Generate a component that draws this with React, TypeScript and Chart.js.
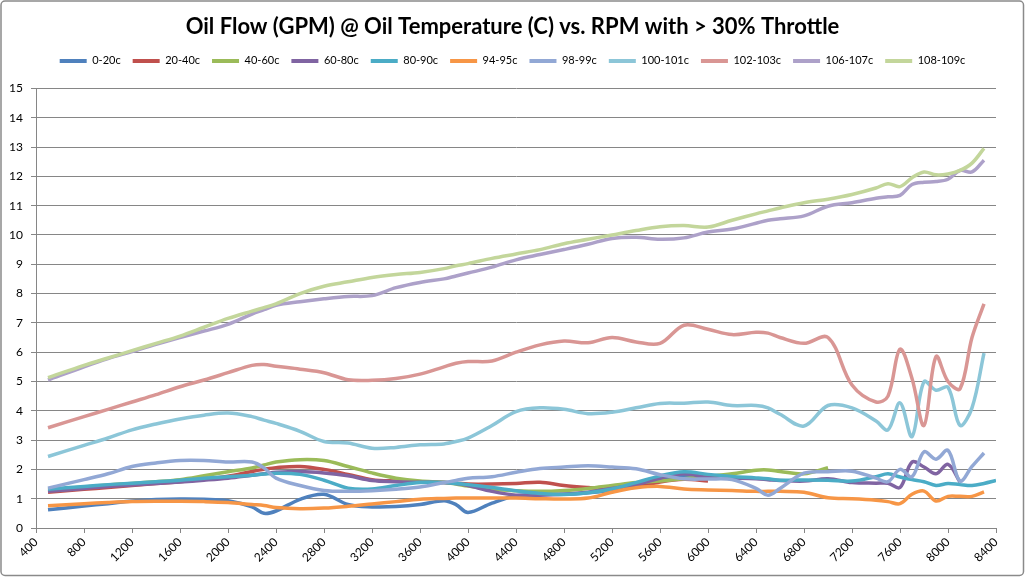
import { useEffect, useRef } from 'react';
import { Chart, registerables } from 'chart.js';

Chart.register(...registerables);

const TITLE = 'Oil Flow (GPM) @ Oil Temperature (C) vs. RPM with > 30% Throttle';

const RPM = [500, 800, 1000, 1200, 1400, 1600, 1800, 2000, 2200, 2300, 2400, 2600, 2800, 3000, 3200, 3400, 3600, 3800, 3900, 4000, 4200, 4400, 4600, 4800, 5000, 5200, 5400, 5600, 5800, 6000, 6200, 6400, 6500, 6600, 6800, 7000, 7200, 7400, 7500, 7600, 7700, 7800, 7900, 8000, 8100, 8200, 8300, 8400];

const X_TICKS = [400, 800, 1200, 1600, 2000, 2400, 2800, 3200, 3600, 4000, 4400, 4800, 5200, 5600, 6000, 6400, 6800, 7200, 7600, 8000, 8400];
const Y_TICKS = [0, 1, 2, 3, 4, 5, 6, 7, 8, 9, 10, 11, 12, 13, 14, 15];

const S_0_20 = [0.62, 0.75, 0.83, 0.92, 0.97, 0.99, 0.98, 0.93, 0.72, 0.5, 0.58, 0.98, 1.15, 0.8, 0.72, 0.73, 0.8, 0.93, 0.8, 0.53, 0.85, 1.1, 1.15, 1.15, 1.2, 1.3, 1.45, 1.65, 1.78, 1.75];
const S_20_40 = [1.22, 1.32, 1.38, 1.45, 1.52, 1.58, 1.66, 1.77, 1.93, 2.0, 2.06, 2.1, 2.0, 1.83, 1.65, 1.6, 1.57, 1.55, 1.53, 1.5, 1.5, 1.52, 1.56, 1.45, 1.38, 1.33, 1.4, 1.57, 1.66, 1.6];
const S_40_60 = [1.3, 1.4, 1.47, 1.52, 1.58, 1.65, 1.78, 1.92, 2.05, 2.15, 2.25, 2.33, 2.3, 2.1, 1.88, 1.7, 1.6, 1.56, 1.5, 1.43, 1.32, 1.27, 1.25, 1.28, 1.35, 1.45, 1.55, 1.6, 1.68, 1.76, 1.85, 1.97, 1.98, 1.93, 1.85, 2.06];
const S_60_80 = [1.25, 1.35, 1.42, 1.47, 1.52, 1.57, 1.63, 1.7, 1.8, 1.85, 1.9, 1.93, 1.88, 1.78, 1.62, 1.58, 1.56, 1.55, 1.52, 1.45, 1.25, 1.12, 1.12, 1.15, 1.22, 1.35, 1.48, 1.7, 1.85, 1.72, 1.7, 1.68, 1.65, 1.62, 1.6, 1.68, 1.55, 1.53, 1.53, 1.38, 2.25, 2.08, 1.85, 2.17, 1.57];
const S_80_90 = [1.32, 1.42, 1.48, 1.53, 1.58, 1.63, 1.7, 1.75, 1.8, 1.84, 1.87, 1.83, 1.63, 1.36, 1.33, 1.45, 1.55, 1.55, 1.52, 1.48, 1.38, 1.27, 1.18, 1.14, 1.2, 1.33, 1.55, 1.78, 1.92, 1.83, 1.76, 1.71, 1.68, 1.63, 1.64, 1.63, 1.6, 1.75, 1.85, 1.74, 1.65, 1.58, 1.45, 1.52, 1.48, 1.45, 1.52, 1.62];
const S_94_95 = [0.76, 0.83, 0.87, 0.9, 0.91, 0.91, 0.9, 0.87, 0.8, 0.77, 0.7, 0.66, 0.68, 0.74, 0.82, 0.9, 0.98, 1.01, 1.02, 1.02, 1.02, 1.02, 1.0, 0.99, 1.02, 1.22, 1.37, 1.42, 1.33, 1.3, 1.28, 1.25, 1.25, 1.25, 1.22, 1.03, 1.0, 0.95, 0.9, 0.83, 1.15, 1.26, 0.92, 1.08, 1.08, 1.08, 1.23];
const S_98_99 = [1.36, 1.65, 1.85, 2.1, 2.22, 2.3, 2.3, 2.25, 2.25, 2.05, 1.7, 1.45, 1.28, 1.25, 1.27, 1.32, 1.4, 1.55, 1.62, 1.7, 1.75, 1.9, 2.03, 2.08, 2.12, 2.08, 2.02, 1.82, 1.68, 1.67, 1.65, 1.35, 1.12, 1.35, 1.87, 1.92, 1.94, 1.7, 1.58, 2.0, 1.75, 2.6, 2.35, 2.65, 1.6, 2.1, 2.56];
const S_100_101 = [2.44, 2.82, 3.07, 3.35, 3.55, 3.72, 3.85, 3.92, 3.8, 3.68, 3.57, 3.3, 2.95, 2.9, 2.72, 2.75, 2.84, 2.87, 2.95, 3.07, 3.5, 3.97, 4.1, 4.05, 3.9, 3.95, 4.1, 4.25, 4.26, 4.3, 4.18, 4.18, 4.1, 3.88, 3.48, 4.18, 4.1, 3.65, 3.35, 4.27, 3.12, 4.99, 4.7, 4.8, 3.5, 4.1, 5.97];
const S_102_103 = [3.42, 3.8, 4.05, 4.3, 4.55, 4.82, 5.05, 5.3, 5.55, 5.58, 5.52, 5.42, 5.3, 5.06, 5.04, 5.1, 5.25, 5.5, 5.62, 5.68, 5.7, 6.0, 6.25, 6.38, 6.32, 6.5, 6.35, 6.3, 6.92, 6.78, 6.6, 6.68, 6.65, 6.5, 6.3, 6.5, 4.88, 4.3, 4.5, 6.1, 5.1, 3.5, 5.85, 5.0, 4.75, 6.5, 7.65];
const S_106_107 = [5.05, 5.5, 5.78, 6.02, 6.27, 6.5, 6.72, 6.95, 7.3, 7.45, 7.6, 7.72, 7.82, 7.9, 7.93, 8.2, 8.38, 8.5, 8.6, 8.7, 8.9, 9.15, 9.33, 9.5, 9.68, 9.88, 9.92, 9.85, 9.9, 10.1, 10.2, 10.4, 10.5, 10.55, 10.65, 10.98, 11.1, 11.25, 11.3, 11.35, 11.72, 11.8, 11.82, 11.9, 12.2, 12.15, 12.55];
const S_108_109 = [5.13, 5.55, 5.8, 6.05, 6.3, 6.55, 6.85, 7.15, 7.4, 7.52, 7.65, 8.0, 8.25, 8.4, 8.55, 8.65, 8.72, 8.85, 8.95, 9.02, 9.2, 9.35, 9.5, 9.7, 9.85, 10.0, 10.15, 10.28, 10.32, 10.27, 10.5, 10.72, 10.82, 10.92, 11.1, 11.22, 11.38, 11.6, 11.75, 11.65, 11.95, 12.15, 12.05, 12.08, 12.2, 12.45, 12.95];

const SERIES_NAMES = ['0-20c', '20-40c', '40-60c', '60-80c', '80-90c', '94-95c', '98-99c', '100-101c', '102-103c', '106-107c', '108-109c'];
const SERIES_VALUES = [S_0_20, S_20_40, S_40_60, S_60_80, S_80_90, S_94_95, S_98_99, S_100_101, S_102_103, S_106_107, S_108_109];
const SERIES_COLORS = ['#4F81BD', '#C0504D', '#9BBB59', '#8064A2', '#4BACC6', '#F79646', '#92A8D5', '#8CC6D8', '#D99694', '#ADA1C9', '#C3D69B'];

const W = 1025;
const H = 577;
const FONT = 'Lato, "Liberation Sans", sans-serif';
const GRID = '#868686';

const framePlugin = {
  id: 'frame',
  beforeDraw(chart: any) {
    const ctx = chart.ctx;
    ctx.save();
    ctx.fillStyle = '#ffffff';
    ctx.fillRect(0, 0, chart.width, chart.height);
    ctx.restore();
  },
  afterDraw(chart: any) {
    const ctx = chart.ctx;
    ctx.save();
    ctx.strokeStyle = '#8a8a8a';
    ctx.lineWidth = 1.5;
    ctx.beginPath();
    (ctx as any).roundRect(1, 1, chart.width - 2.5, chart.height - 2.5, 4);
    ctx.stroke();
    ctx.restore();
  },
};

export default function App() {
  const ref = useRef<HTMLCanvasElement | null>(null);

  useEffect(() => {
    if (!ref.current) return;
    const datasets = SERIES_NAMES.map((name, i) => ({
      label: name,
      data: RPM.map((x, j) => ({ x, y: SERIES_VALUES[i][j] })).filter((p) => p.y !== undefined && p.y !== null),
      borderColor: SERIES_COLORS[i],
      backgroundColor: SERIES_COLORS[i],
      borderWidth: 3.5,
      pointRadius: 0,
      pointHoverRadius: 0,
      tension: 0.35,
      fill: false,
      xAxisID: 'x',
      yAxisID: 'y',
      order: SERIES_NAMES.length - i,
    }));

    const chart = new Chart(ref.current, {
      type: 'line',
      data: { datasets },
      plugins: [framePlugin],
      options: {
        responsive: false,
        animation: false,
        devicePixelRatio: 1,
        layout: { padding: { left: 0, right: 0, top: 14, bottom: 0 } },
        plugins: {
          tooltip: { enabled: false },
          title: {
            display: true,
            text: TITLE,
            color: '#000',
            font: { family: FONT, size: 22, weight: 'bold' },
            padding: { top: 0, bottom: 3 },
          },
          legend: {
            display: true,
            position: 'top',
            labels: {
              color: '#000',
              font: { family: FONT, size: 11 },
              boxWidth: 27,
              boxHeight: 4,
              padding: 12,
              sort: (a: any, b: any) => a.datasetIndex - b.datasetIndex,
              generateLabels: (chart: any) =>
                (Chart.defaults.plugins.legend.labels.generateLabels as any)(chart).map((l: any) => ({ ...l, lineWidth: 0 })),
            },
          },
        },
        scales: {
          x: {
            type: 'linear',
            position: 'bottom',
            min: 400,
            max: 8400,
            afterBuildTicks: (scale: any) => {
              scale.ticks = X_TICKS.map((v) => ({ value: v }));
            },
            afterFit: (scale: any) => {
              scale.height = H - 528;
            },
            ticks: {
              autoSkip: false,
              minRotation: 45,
              maxRotation: 45,
              color: '#000',
              font: { family: FONT, size: 12 },
              padding: 2,
              callback: (v: any) => String(v),
            },
            grid: { display: true, drawOnChartArea: false, drawTicks: true, tickLength: 5, color: GRID },
            border: { display: true, color: GRID, width: 1 },
          },
          y: {
            type: 'linear',
            position: 'left',
            min: 0,
            max: 15,
            afterBuildTicks: (scale: any) => {
              scale.ticks = Y_TICKS.map((v) => ({ value: v }));
            },
            afterFit: (scale: any) => {
              scale.width = 36;
            },
            ticks: {
              color: '#000',
              font: { family: FONT, size: 12 },
              padding: 8,
              callback: (v: any) => String(v),
            },
            grid: { color: GRID, lineWidth: 1, tickLength: 5 },
            border: { display: true, color: GRID, width: 1 },
          },
          xTop: {
            type: 'linear',
            axis: 'x',
            position: 'top',
            display: true,
            min: 0,
            max: 1,
            ticks: { display: false },
            grid: { display: false, drawTicks: false },
            border: { display: false },
            afterFit: (scale: any) => {
              scale.height = 12;
            },
          },
          yRight: {
            type: 'linear',
            axis: 'y',
            position: 'right',
            display: true,
            min: 0,
            max: 1,
            ticks: { display: false },
            grid: { display: false, drawTicks: false },
            border: { display: false },
            afterFit: (scale: any) => {
              scale.width = 29;
            },
          },
        },
      },
    } as any);

    return () => chart.destroy();
  }, []);

  return (
    <div style={{ position: 'fixed', left: 0, top: 0, width: W, height: H, background: '#fff' }}>
      <canvas ref={ref} width={W} height={H} style={{ display: 'block', width: W, height: H }} />
    </div>
  );
}
